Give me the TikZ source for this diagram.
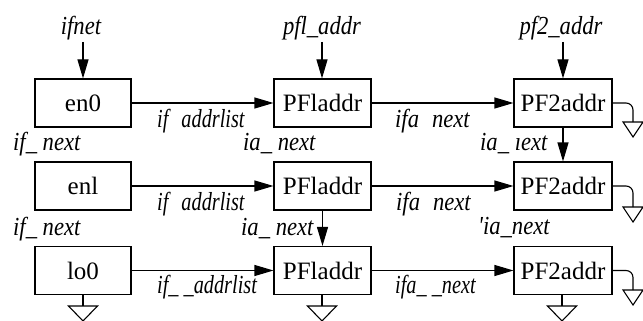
\documentclass[tikz,border=0pt]{standalone}
\usepackage{fontspec}
\setmainfont{Liberation Serif}
\newfontfamily\labfont[FakeStretch=0.87]{Liberation Serif}
\newfontfamily\labnfont[FakeStretch=0.78]{Liberation Serif}
\usetikzlibrary{arrows.meta}
\tikzset{
  box/.style={draw, line width=1.1pt, minimum height=48pt, inner sep=0pt,
    font=\fontsize{25}{25}\selectfont},
  lab/.style={font=\labfont\itshape\fontsize{26}{26}\selectfont, inner sep=0pt, anchor=base west},
  labn/.style={font=\labnfont\itshape\fontsize{26}{26}\selectfont, inner sep=0pt, anchor=base west},
  toplab/.style={font=\labfont\itshape\fontsize{26}{26}\selectfont, inner sep=0pt, anchor=base},
  arr/.style={-{Triangle[length=19pt,width=11pt]}, line width=1.1pt},
  wire/.style={line width=1.1pt},
  pics/gtri/.style={code={\draw[wire] (-#1,0) -- (#1,0) -- (0,15) -- cycle;}}
}
\begin{document}
\begin{tikzpicture}[x=1pt,y=-1pt]
\useasboundingbox (0,0) rectangle (643,321);
% boxes
\node[box, minimum width=96pt] (e0) at (83,103) {en0};
\node[box, minimum width=97pt] (p1a) at (322.5,103) {PFladdr};
\node[box, minimum width=98pt] (p2a) at (563,103) {PF2addr};
\node[box, minimum width=96pt] (e1) at (83,186) {enl};
\node[box, minimum width=97pt] (p1b) at (322.5,186) {PFladdr};
\node[box, minimum width=98pt] (p2b) at (563,186) {PF2addr};
\node[box, minimum width=96pt] (l0) at (83,270.5) {lo0};
\node[box, minimum width=97pt] (p1c) at (322.5,270.5) {PFladdr};
\node[box, minimum width=98pt] (p2c) at (563,270.5) {PF2addr};
% top labels
\node[toplab] (t1) at (81,35) {ifnet};
\node[toplab] (t2) at (322,35) {pfl\_addr};
\node[toplab] (t3) at (561,35) {pf2\_addr};
\coordinate (s1) at (83,42);
\coordinate (s2) at (322,42);
\coordinate (s3) at (563,42);
\draw[arr] (s1) -- (e0.north);
\draw[arr] (s2) -- (s2 |- p1a.north);
\draw[arr] (s3) -- (p2a.north);
% horizontal arrows
\draw[arr] (e0.east) -- (p1a.west);
\draw[arr] (p1a.east) -- (p2a.west);
\draw[arr] (e1.east) -- (p1b.west);
\draw[arr] (p1b.east) -- (p2b.west);
\draw[arr] (l0.east) -- (p1c.west);
\draw[arr] (p1c.east) -- (p2c.west);
% vertical arrows
\draw[arr] (p2a.south) -- (p2b.north);
\draw[arr] (p1b.south) -- (p1c.north);
% labels row 1
\node[labn] (a1) at (157,127) {if\enspace addrlist};
\node[lab] (n1) at (13,150) {if\_ next};
\node[lab] (m1) at (243,150) {ia\_ next};
\node[lab] (f1) at (395,127) {ifa\enspace next};
\node[lab] (k1) at (480,150) {ia\_ ıext};
% labels row 2
\node[labn] (a2) at (157,210) {if\enspace addrlist};
\node[lab] (n2) at (13,235) {if\_ next};
\node[lab] (m2) at (241,235) {ia\_ next};
\node[lab] (f2) at (396,210) {ifa\enspace next};
\node[lab] (k2) at (478,234) {'ia\_next};
% labels row 3
\node[labn] (a3) at (157,293) {if\_ \_addrlist};
\node[labn] (f3) at (395,293) {ifa\_ \_next};
% right grounds
\coordinate (g1) at (633,122);
\coordinate (g2) at (633,207);
\coordinate (g3) at (633,290);
\draw[wire, rounded corners=7pt] (p2a.east) -| (g1);
\draw[wire, rounded corners=7pt] (p2b.east) -| (g2);
\draw[wire, rounded corners=7pt] (p2c.east) -| (g3);
\pic at (g1) {gtri=10};
\pic at (g2) {gtri=10};
\pic at (g3) {gtri=10};
% bottom grounds
\coordinate (h1) at (83,306);
\coordinate (h2) at (322,306);
\coordinate (h3) at (562,306);
\draw[wire] (l0.south) -- (h1);
\draw[wire] (h2 |- p1c.south) -- (h2);
\draw[wire] (h3 |- p2c.south) -- (h3);
\pic at (h1) {gtri=14.5};
\pic at (h2) {gtri=14.5};
\pic at (h3) {gtri=14.5};
\end{tikzpicture}
\end{document}
